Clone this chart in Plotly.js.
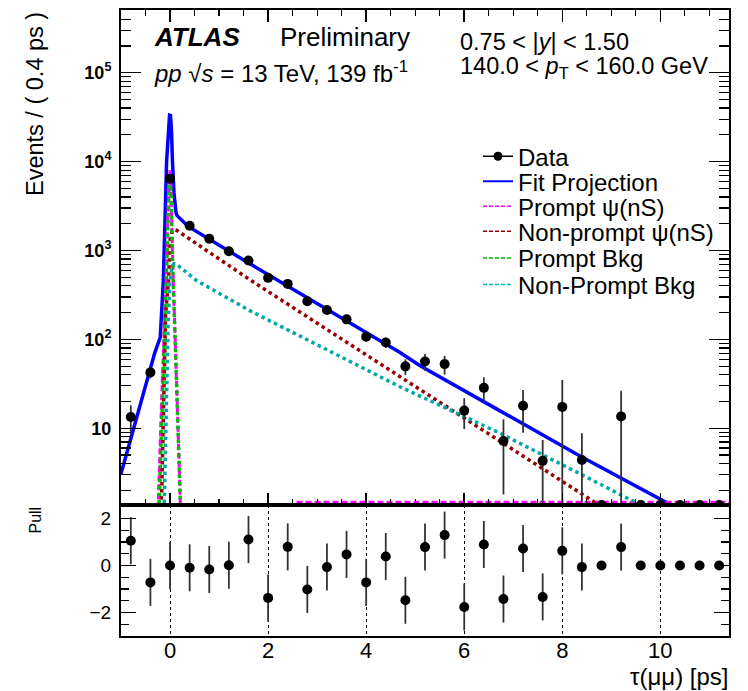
<!DOCTYPE html>
<html><head><meta charset="utf-8">
<script src="https://cdn.plot.ly/plotly-3.0.1.min.js"></script>
<style>html,body{margin:0;padding:0;background:#fff}#chart{width:748px;height:691px}</style>
</head><body><div id="chart"></div>
<script>
// ---------- data ----------
const tauBins = [-0.8,-0.4,0.0,0.4,0.8,1.2,1.6,2.0,2.4,2.8,3.2,3.6,4.0,4.4,4.8,5.2,5.6,6.0,6.4,6.8,7.2,7.6,8.0,8.4,8.8,9.2,9.6,10.0,10.4,10.8,11.2];
const events   = [13.4,42.5,6430,1900,1355,982,771,492,421,268,214,168,107,92.4,49.7,56.5,52.7,15.8,28.5,7.2,17.9,4.3,17.4,4.4,0,13.6,0,0,0,0,0];
const eventErr = [4.7,6,100,50,45,40,35,28,26,20,18,16,12,12,10,12,12.5,6,9,5.4,9,3.1,17.6,4.4,0,12.8,0,0,0,0,0];
const pull     = [1.05,-0.72,0.0,-0.10,-0.17,0.01,1.10,-1.38,0.79,-1.02,-0.07,0.47,-0.72,0.38,-1.48,0.78,1.29,-1.77,0.89,-1.43,0.72,-1.34,0.62,-0.07,0,0.78,0,0,0,0,0];
const pullErr  = [1,1,1,1,1,1,1,1,1,1,1,1,1,1,1,1,1,1,1,1,1,1,1,1,0,1,0,0,0,0,0];

const fitX = [-1.0,-0.31,-0.2,-0.17,-0.136,-0.07,-0.04,-0.01,0.01,0.03,0.05,0.08,0.12,0.14,0.37,1.43,1.63,4.69,5.10,6.73,8.36,10.23,10.4];
const fitY = [3.08,71,105,193,459,10000,23000,33300,33000,22000,10000,4500,2700,2480,1863,828,708,71.3,50.5,15.7,4.89,1.36,1.2];

const promptPsiX = [-0.26,-0.24,-0.16,-0.08,-0.04,-0.015,0.0,0.015,0.035,0.05,0.07,0.136,0.204,0.22];
const promptPsiY = [1.0,1.5,32,460,3000,7000,8000,6000,2800,900,400,29,1.8,1.0];
const promptPsiTailX = [2.58,11.4];

const nonPromptPsiX = [-0.2,-0.17,-0.09,-0.03,0.0,0.04,0.08,0.14,1.63,6.73,8.67,8.9];
const nonPromptPsiY = [1.1,1.8,195,458,1300,1650,1720,1680,468,7.08,1.46,1.1];

const promptBkgX = [-0.23,-0.15,-0.07,-0.02,0.0,0.02,0.05,0.07,0.136,0.204,0.22];
const promptBkgY = [1.0,30,600,5000,5500,4500,800,400,29,1.8,1.0];

const nonPromptBkgX = [-0.12,-0.08,-0.04,0.0,0.04,0.08,0.12,0.54,1.63,4.69,6.73,8.36,9.6,9.8];
const nonPromptBkgY = [1.2,20,150,450,650,710,708,459,210,29.3,8.8,3.08,1.36,1.2];

const yTickVals = [10,100,1000,10000,100000];
const yTickText = ['10','10<sup>2</sup>','10<sup>3</sup>','10<sup>4</sup>','10<sup>5</sup>'];
const pullTickVals = [-2,0,2];
const pullTickText = ['\u22122','0','2'];
const xTickVals = [0,2,4,6,8,10];
const xTickText = ['0','2','4','6','8','10'];

const legendNames = ['Data','Fit Projection','Prompt \u03c8(nS)','Non-prompt \u03c8(nS)','Prompt Bkg','Non-Prompt Bkg'];

// ---------- geometry helpers ----------
const L=121, T=10, W=608, H=626;
const px2x = p => (p-L)/W;
const px2y = p => (T+H-p)/H;
const split = px2y(505);
const yLogRange = [0.137, 5.705];
const yFloor = Math.pow(10, yLogRange[0]);
const yTailLevel = Math.pow(10, yLogRange[0] + 0.03);

const FONT = 'Liberation Sans, Arial, Helvetica, sans-serif';
const C_BLUE='#0000ff', C_MAG='#ff00ff', C_RED='#990000', C_GRN='#00bb00', C_TEAL='#00a8a8';

const minorLog = [];
for (let d=0; d<=5; d++) for (let m=2; m<=9; m++) minorLog.push(m*Math.pow(10,d));

const dataPlotY = events.map(v => v>0 ? v : yFloor);

const traces = [
  {x:fitX, y:fitY, mode:'lines', line:{color:C_BLUE, width:3.5}, showlegend:false, hoverinfo:'skip'},
  {x:promptPsiX.concat([null]).concat(promptPsiTailX),
   y:promptPsiY.concat([null]).concat(promptPsiTailX.map(()=>yTailLevel)),
   mode:'lines', line:{color:C_MAG, width:3, dash:'6px,3px'}, showlegend:false, connectgaps:false, hoverinfo:'skip'},
  {x:nonPromptPsiX, y:nonPromptPsiY, mode:'lines', line:{color:C_RED, width:3.5, dash:'dot'}, showlegend:false, hoverinfo:'skip'},
  {x:promptBkgX, y:promptBkgY, mode:'lines', line:{color:C_GRN, width:3.5, dash:'dot'}, showlegend:false, hoverinfo:'skip'},
  {x:nonPromptBkgX, y:nonPromptBkgY, mode:'lines', line:{color:C_TEAL, width:3.5, dash:'dot'}, showlegend:false, hoverinfo:'skip'},
  {x:tauBins, y:dataPlotY, mode:'markers', marker:{color:'#000', size:10},
   error_y:{type:'data', array:eventErr, symmetric:true, width:0, thickness:1.8, color:'#333'},
   showlegend:false, cliponaxis:true},
  {x:tauBins, y:pull, xaxis:'x2', yaxis:'y2', mode:'markers', marker:{color:'#000', size:10},
   error_y:{type:'data', array:pullErr, symmetric:true, width:0, thickness:1.8, color:'#333'},
   showlegend:false},
  // legend entries
  {x:[null], y:[null], name:legendNames[0], mode:'lines+markers', line:{color:'#000', width:1.5}, marker:{color:'#000', size:9}, legend:'legend'},
  {x:[null], y:[null], name:legendNames[1], mode:'lines', line:{color:C_BLUE, width:2}, legend:'legend2'},
  {x:[null], y:[null], name:legendNames[2], mode:'lines', line:{color:C_MAG, width:1.5, dash:'4px,2px'}, legend:'legend3'},
  {x:[null], y:[null], name:legendNames[3], mode:'lines', line:{color:C_RED, width:1.5, dash:'4px,2px'}, legend:'legend4'},
  {x:[null], y:[null], name:legendNames[4], mode:'lines', line:{color:C_GRN, width:1.5, dash:'4px,2px'}, legend:'legend5'},
  {x:[null], y:[null], name:legendNames[5], mode:'lines', line:{color:'#00c0c0', width:1.5, dash:'4px,2px'}, legend:'legend6'}
];

const legRows = [156.7,181.7,206.7,231.7,258.3,285];
const legBase = {x:px2x(478), xanchor:'left', yanchor:'middle', bgcolor:'rgba(0,0,0,0)', borderwidth:0,
  font:{family:FONT, size:24, color:'#000'}, itemwidth:30};

const axisCommon = {showline:true, linecolor:'#000', linewidth:2, mirror:'ticks', ticks:'inside',
  tickcolor:'#000', tickwidth:1.5, zeroline:false, showgrid:false};

const layout = {
  width:748, height:691,
  margin:{l:L, r:748-729, t:T, b:691-636, pad:0},
  paper_bgcolor:'#fff', plot_bgcolor:'#fff',
  font:{family:FONT, color:'#000'},
  showlegend:true,
  xaxis: Object.assign({}, axisCommon, {domain:[0,1], anchor:'y', range:[-1.0,11.4],
    tickmode:'linear', tick0:0, dtick:2, ticklen:12, showticklabels:false,
    minor:{dtick:0.5, tick0:0, ticklen:6, ticks:'inside', tickcolor:'#000', tickwidth:1.2}}),
  yaxis: Object.assign({}, axisCommon, {domain:[split,1], anchor:'x', type:'log', range:yLogRange,
    tickmode:'array', tickvals:yTickVals, ticktext:yTickText, ticklen:20,
    tickfont:{family:FONT, size:18, weight:'bold'}, ticklabelstandoff:4,
    minor:{tickmode:'array', tickvals:minorLog, ticklen:10, ticks:'inside', tickcolor:'#000', tickwidth:1.2}}),
  xaxis2: Object.assign({}, axisCommon, {domain:[0,1], anchor:'y2', range:[-1.0,11.4], matches:'x',
    tickmode:'array', tickvals:xTickVals, ticktext:xTickText, ticks:'', mirror:true,
    showgrid:true, gridcolor:'#000', gridwidth:1, griddash:'dot',
    tickfont:{family:FONT, size:22}, ticklabelstandoff:-6}),
  yaxis2: Object.assign({}, axisCommon, {domain:[0,split], anchor:'x2', range:[-3,2.57],
    tickmode:'array', tickvals:pullTickVals, ticktext:pullTickText, ticklen:15,
    tickfont:{family:FONT, size:19}, ticklabelstandoff:4,
    minor:{dtick:0.5, tick0:0, ticklen:8, ticks:'inside', tickcolor:'#000', tickwidth:1.2}}),
  legend:  Object.assign({}, legBase, {y:px2y(legRows[0])}),
  legend2: Object.assign({}, legBase, {y:px2y(legRows[1])}),
  legend3: Object.assign({}, legBase, {y:px2y(legRows[2])}),
  legend4: Object.assign({}, legBase, {y:px2y(legRows[3])}),
  legend5: Object.assign({}, legBase, {y:px2y(legRows[4])}),
  legend6: Object.assign({}, legBase, {y:px2y(legRows[5])}),
  annotations: [
    {xref:'paper', yref:'paper', x:px2x(152), y:px2y(37), xanchor:'left', yanchor:'middle', showarrow:false,
     text:'<b><i>ATLAS</i></b>', font:{family:FONT, size:26}},
    {xref:'paper', yref:'paper', x:px2x(278), y:px2y(37), xanchor:'left', yanchor:'middle', showarrow:false,
     text:'Preliminary', font:{family:FONT, size:26}},
    {xref:'paper', yref:'paper', x:px2x(152), y:px2y(72), xanchor:'left', yanchor:'middle', showarrow:false,
     text:'<i>pp</i> \u221a<i>s</i> = 13 TeV, 139 fb<sup>-1</sup>', font:{family:FONT, size:24}},
    {xref:'paper', yref:'paper', x:px2x(458), y:px2y(42), xanchor:'left', yanchor:'middle', showarrow:false,
     text:'0.75 &lt; |<i>y</i>| &lt; 1.50', font:{family:FONT, size:23.5}},
    {xref:'paper', yref:'paper', x:px2x(458), y:px2y(68), xanchor:'left', yanchor:'middle', showarrow:false,
     text:'140.0 &lt; <i>p</i><sub>T</sub> &lt; 160.0 GeV', font:{family:FONT, size:23.5}},
    {xref:'paper', yref:'paper', x:px2x(35), y:px2y(10), xanchor:'center', yanchor:'top', textangle:-90, showarrow:false,
     text:'Events / ( 0.4 ps )', font:{family:FONT, size:23.5}},
    {xref:'paper', yref:'paper', x:px2x(35), y:px2y(505), xanchor:'center', yanchor:'top', textangle:-90, showarrow:false,
     text:'Pull', font:{family:FONT, size:16}},
    {xref:'paper', yref:'paper', x:px2x(730), y:px2y(676), xanchor:'right', yanchor:'middle', showarrow:false,
     text:'\u03c4(\u03bc\u03bc) [ps]', font:{family:FONT, size:24}}
  ]
};

Plotly.newPlot('chart', traces, layout, {staticPlot:true, displayModeBar:false});
</script></body></html>
